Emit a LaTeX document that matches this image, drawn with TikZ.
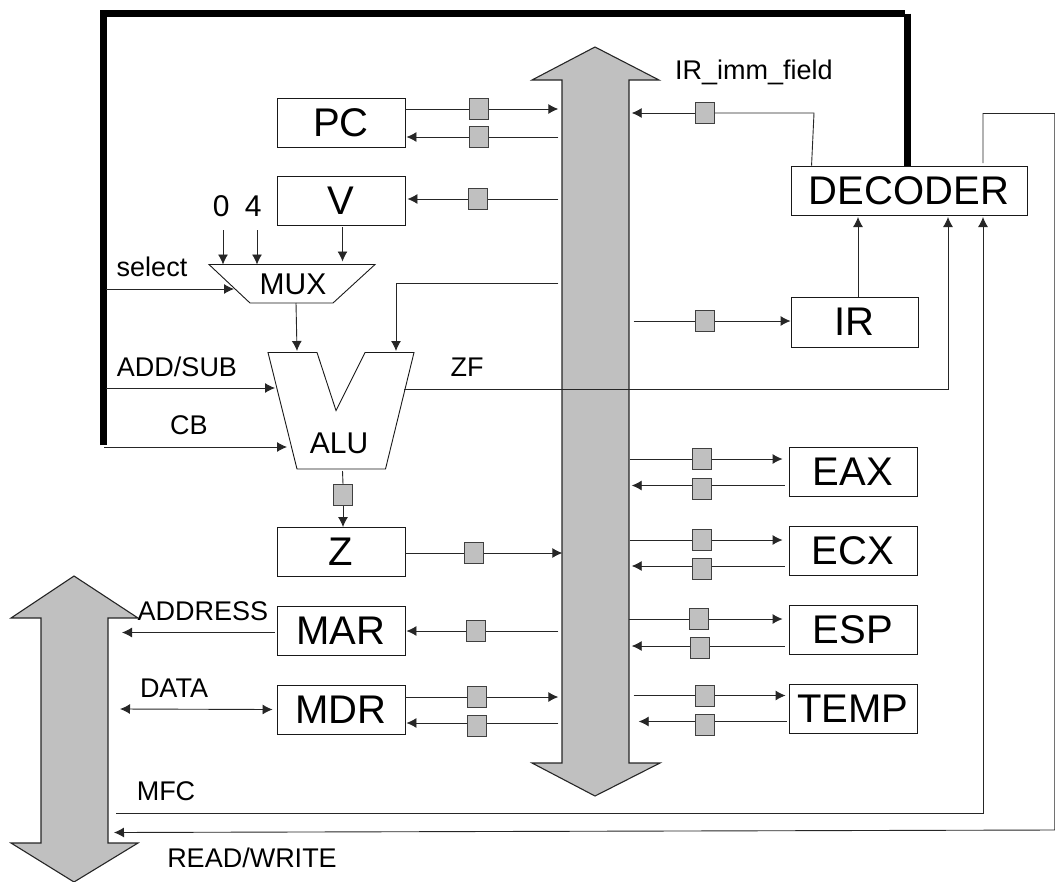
\documentclass[tikz,border=0pt]{standalone}
\usepackage{fontspec}
\setmainfont{Liberation Sans}
\usetikzlibrary{arrows.meta}
\definecolor{busgray}{HTML}{C0C0C0}
\tikzset{
  regbox/.style={draw=black!90,fill=white,line width=0.9pt,inner sep=0pt,minimum width=128pt,minimum height=49pt,font=\fontsize{40}{44}\selectfont},
  sw/.style={draw=black!75,fill=busgray,line width=1pt,inner sep=0pt,minimum width=19pt,minimum height=21pt},
  wire/.style={draw=black!85,line width=0.9pt},
  arr/.style={wire,-{Latex[length=10pt,width=10pt]}},
  darr/.style={wire,{Latex[length=10pt,width=10pt]}-{Latex[length=10pt,width=10pt]}},
  lab/.style={inner sep=0pt,font=\fontsize{27}{30}\selectfont},
  blab/.style={inner sep=0pt,font=\fontsize{30}{33}\selectfont},
  busbody/.style={draw=black!85,fill=busgray,line width=1.1pt,line join=miter},
  unit/.style={draw=black!90,fill=white,line width=0.9pt},
  ctrl/.style={draw=black,line width=7pt,line cap=butt,line join=miter},
  anchorbox/.style={inner sep=0pt,minimum width=0pt,minimum height=0pt}
}
\begin{document}
\begin{tikzpicture}[x=1pt,y=-1pt]
\useasboundingbox (0,0) rectangle (1055,881);
% buses
\draw[busbody] (595,47) -- (659,80) -- (629,80) -- (629,763) -- (660,763) -- (595,796) -- (532,763) -- (562,763) -- (562,80) -- (532,80) -- cycle;
\draw[busbody] (74,576) -- (138,618) -- (108,618) -- (108,843) -- (138,843) -- (74,882) -- (11,843) -- (41,843) -- (41,618) -- (11,618) -- cycle;
\node[anchorbox,minimum width=73pt,minimum height=700pt] (bus) at (595,420) {};
% thick control line
\node[regbox,minimum width=236pt] (dec) at (909,190.5) {DECODER};
\coordinate (c1) at (103,445);
\coordinate (c2) at (103,13.5);
\coordinate (c3) at (905,13.5);
\coordinate (c4) at (907,13.5);
\draw[ctrl] (c1) -- (c2) -- (c3);
\draw[ctrl] (c4) -- (c4 |- dec.north);
% registers
\node[regbox] (pc) at (341,122.5) {PC};
\node[regbox] (v) at (341,200.5) {V};
\node[regbox] (z) at (341,552) {Z};
\node[regbox] (mar) at (341,631) {MAR};
\node[regbox] (mdr) at (341,709.5) {MDR};
\node[regbox,minimum width=127pt,minimum height=50pt] (ir) at (854.5,322) {IR};
\node[regbox] (eax) at (853,471.5) {EAX};
\node[regbox] (ecx) at (853,550.5) {ECX};
\node[regbox] (esp) at (853,630) {ESP};
\node[regbox] (temp) at (853,708.7) {TEMP};
% MUX and ALU
\draw[unit] (209,264.5) coordinate (muxa) -- (375,264.5) -- (333,303) coordinate (muxb) -- (250,303) coordinate (muxc) -- cycle;
\node[blab] (mux) at (293,284) {MUX};
\draw[unit] (268,352.5) coordinate (alua) -- (317,352.5) -- (336,410.5) -- (365,352.5) -- (414,352.5) coordinate (alub) -- (385.5,469) coordinate (aluc) -- (297,469) coordinate (alud) -- cycle;
\node[blab] (alu) at (339,443) {ALU};
% switches
\node[sw] (s1) at (479,109) {};
\node[sw] (s2) at (479,137) {};
\node[sw] (s3) at (478,199) {};
\node[sw] (s4) at (474,553) {};
\node[sw] (s5) at (476,631) {};
\node[sw] (s6) at (477,697) {};
\node[sw] (s7) at (477,726) {};
\node[sw] (s8) at (705,113) {};
\node[sw] (s9) at (705,321) {};
\node[sw] (s10) at (701.5,459) {};
\node[sw] (s11) at (701.5,488.5) {};
\node[sw] (s12) at (702,540) {};
\node[sw] (s13) at (702,569) {};
\node[sw] (s14) at (699,619) {};
\node[sw] (s15) at (700,648) {};
\node[sw] (s16) at (705,695.5) {};
\node[sw] (s17) at (705,724.5) {};
\node[sw] (s18) at (343,495) {};
% left register links
\draw[wire] (pc.east |- s1) -- (s1.west); \draw[arr] (s1.east) -- (bus.west |- s1);
\draw[wire] (bus.west |- s2) -- (s2.east); \draw[arr] (s2.west) -- ([xshift=1pt]pc.east |- s2);
\draw[wire] (bus.west |- s3) -- (s3.east); \draw[arr] (s3.west) -- ([xshift=2pt]v.east |- s3);
\draw[wire] (z.east |- s4) -- (s4.west); \draw[arr] (s4.east) -- ([xshift=4pt]bus.west |- s4);
\draw[wire] (bus.west |- s5) -- (s5.east); \draw[arr] (s5.west) -- ([xshift=1pt]mar.east |- s5);
\draw[wire] (mdr.east |- s6) -- (s6.west); \draw[arr] (s6.east) -- (bus.west |- s6);
\draw[wire] ([yshift=3pt]bus.west |- s7) -- ([yshift=3pt]s7.east); \draw[arr] ([yshift=3pt]s7.west) -- ([yshift=3pt,xshift=1pt]mdr.east |- s7);
% right register links
\coordinate (imm) at (814,113);
\draw[wire] ([xshift=21pt]dec.north west) -- (imm) -- (s8.east); \draw[arr] (s8.west) -- (bus.east |- s8);
\draw[wire] ([xshift=2pt]bus.east |- s9) -- (s9.west); \draw[arr] (s9.east) -- (ir.west |- s9);
\draw[wire] ([xshift=-2pt]bus.east |- s10) -- (s10.west); \draw[arr] (s10.east) -- ([xshift=-6pt]eax.west |- s10);
\draw[wire] ([xshift=-4pt,yshift=3pt]eax.west |- s11) -- ([yshift=3pt]s11.east); \draw[arr] ([yshift=3pt]s11.west) -- ([yshift=3pt]bus.east |- s11);
\draw[wire] ([xshift=-2pt]bus.east |- s12) -- (s12.west); \draw[arr] (s12.east) -- ([xshift=-6pt]ecx.west |- s12);
\draw[wire] ([xshift=-4pt,yshift=3pt]ecx.west |- s13) -- ([yshift=3pt]s13.east); \draw[arr] ([yshift=3pt]s13.west) -- ([yshift=3pt]bus.east |- s13);
\draw[wire] ([xshift=-3pt]bus.east |- s14) -- (s14.west); \draw[arr] (s14.east) -- ([xshift=-6pt]esp.west |- s14);
\draw[wire] ([xshift=-4pt,yshift=2pt]esp.west |- s15) -- ([yshift=2pt]s15.east); \draw[arr] ([yshift=2pt]s15.west) -- ([yshift=2pt]bus.east |- s15);
\draw[wire] ([xshift=2pt]bus.east |- s16) -- (s16.west); \draw[arr] (s16.east) -- ([xshift=-3pt]temp.west |- s16);
\draw[wire] ([xshift=-2pt,yshift=3pt]temp.west |- s17) -- ([yshift=3pt]s17.east); \draw[arr] ([yshift=3pt]s17.west) -- ([yshift=3pt,xshift=7pt]bus.east |- s17);
% datapath into MUX / ALU
\coordinate (zero) at (223,230); \coordinate (four) at (257,230);
\draw[arr] (zero) -- (zero |- muxa);
\draw[arr] (four) -- (four |- muxa);
\draw[arr,shorten >=3pt,shorten <=2pt] ([xshift=1.5pt]v.south) -- ([xshift=1.5pt]v.south |- muxa);
\coordinate (sel) at (106,289);
\draw[arr] (sel) -- (234,289);
\coordinate (muxout) at (296,303);
\coordinate (aluin) at (297,351);
\draw[arr] (muxout) -- (aluin);
\coordinate (aluB) at (396,351);
\draw[arr] (bus.west |- 0,283) -- (396,283) -- (aluB);
\coordinate (addsub) at (106,388);
\draw[arr] (addsub) -- (275,388);
\coordinate (cb) at (104,447);
\draw[arr] (cb) -- (287,447);
\coordinate (zf) at (404,389);
\draw[arr] (zf) -- (948,389) -- (948,217);
\draw[wire] (342.5,471) -- (s18.north); \draw[arr] (s18.south) -- (z.north -| s18);
% memory side
\draw[arr] ([xshift=-2pt]mar.west |- 0,632.5) -- (122,632.5);
\draw[darr] (120,709) -- ([xshift=-4pt]mdr.west);
% decoder connections
\draw[arr] (ir.north -| 858,0) -- (858,217);
\coordinate (mfc) at (116,813);
\draw[arr] (mfc) -- (983,813) -- (983,217);
\draw[arr] (983,163) -- (983,113.5) -- (1054.8,113.5) -- (1054.8,830) -- (114,832.5);
% labels
\node[blab] (t0) at (221.3,206) {0};
\node[blab] (t4) at (253.3,206) {4};
\node[lab] (tsel) at (152,267) {select};
\node[lab] (tadd) at (177,367) {ADD/SUB};
\node[lab] (tcb) at (189,425) {CB};
\node[lab] (tzf) at (467,367) {ZF};
\node[lab] (timm) at (754,72) {IR\_imm\_field};
\node[lab] (taddr) at (203,611) {ADDRESS};
\node[lab] (tdata) at (174,688) {DATA};
\node[lab] (tmfc) at (166,791) {MFC};
\node[lab] (trw) at (252,858) {READ/WRITE};
\end{tikzpicture}
\end{document}
